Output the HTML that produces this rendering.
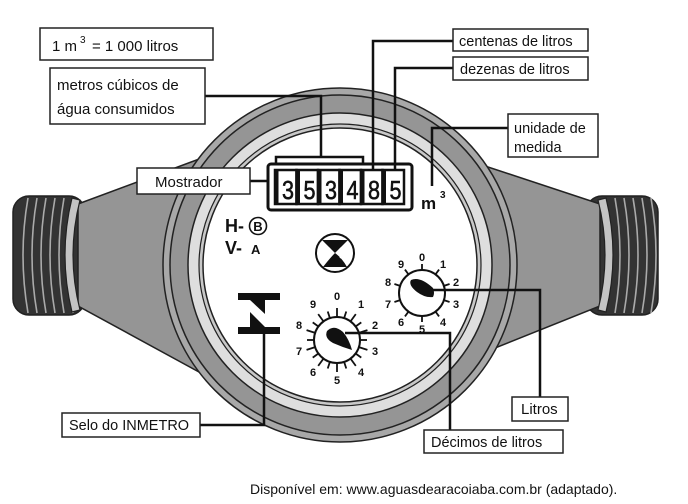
<!DOCTYPE html>
<html><head><meta charset="utf-8"><style>
html,body{margin:0;padding:0;background:#fff;}
svg{display:block;}
text{font-family:"Liberation Sans",Arial,sans-serif;}
</style></head><body>
<svg width="688" height="504" viewBox="0 0 688 504" xmlns="http://www.w3.org/2000/svg">
<!-- left pipe -->
<rect x="13" y="196" width="72" height="119" rx="16" fill="#333" stroke="#222" stroke-width="1.5"/>
<g fill="none" stroke="#aaa" stroke-width="1.6">
<path d="M28 198 Q18 255 28 313"/><path d="M37 198 Q27 255 37 313"/><path d="M46 198 Q36 255 46 313"/><path d="M55 198 Q45 255 55 313"/><path d="M64 198 Q54 255 64 313"/><path d="M73 198 Q63 255 73 313"/>
</g>
<path d="M78 204 L210 155 L210 378 L78 306 Z" fill="#959595" stroke="#222" stroke-width="1.5"/>
<path d="M80 200 Q66 255 80 310 L72 312 Q58 255 72 198 Z" fill="#c4c4c4" stroke="#222" stroke-width="1.2"/>
<!-- right pipe -->
<rect x="586" y="196" width="72" height="119" rx="16" fill="#333" stroke="#222" stroke-width="1.5"/>
<g fill="none" stroke="#aaa" stroke-width="1.6">
<path d="M615 198 Q625 255 615 313"/><path d="M624 198 Q634 255 624 313"/><path d="M633 198 Q643 255 633 313"/><path d="M642 198 Q652 255 642 313"/><path d="M651 198 Q661 255 651 313"/>
</g>
<path d="M600 204 L470 161 L470 358 L600 306 Z" fill="#959595" stroke="#222" stroke-width="1.5"/>
<path d="M598 200 Q612 255 598 310 L606 312 Q620 255 606 198 Z" fill="#c4c4c4" stroke="#222" stroke-width="1.2"/>
<!-- main body -->
<circle cx="340" cy="265" r="177" fill="#a8a8a8" stroke="#222" stroke-width="1.5"/>
<circle cx="340" cy="265" r="170" fill="#959595" stroke="#222" stroke-width="1.5"/>
<circle cx="340" cy="265" r="152" fill="#dedede" stroke="#222" stroke-width="1.5"/>
<circle cx="340" cy="265" r="141" fill="#c8c8c8" stroke="#222" stroke-width="1.2"/>
<circle cx="340" cy="265" r="137" fill="#fff" stroke="#222" stroke-width="1.5"/>
<!-- display -->
<path d="M276 164 V157 H363 V164" fill="none" stroke="#111" stroke-width="2.5"/>
<rect x="268" y="164" width="144" height="46" rx="3" fill="#fff" stroke="#111" stroke-width="3"/>
<g fill="#fff" stroke="#111" stroke-width="2.5">
<rect x="275" y="170" width="21.5" height="34"/><rect x="296.5" y="170" width="21.5" height="34"/><rect x="318" y="170" width="21.5" height="34"/><rect x="339.5" y="170" width="21.5" height="34"/><rect x="361" y="170" width="21.5" height="34"/><rect x="382.5" y="170" width="21.5" height="34"/>
</g>
<g fill="#111">
<rect x="275" y="170" width="3.5" height="34"/><rect x="296.5" y="170" width="3.5" height="34"/><rect x="318" y="170" width="3.5" height="34"/><rect x="339.5" y="170" width="3.5" height="34"/><rect x="361" y="170" width="3.5" height="34"/><rect x="382.5" y="170" width="3.5" height="34"/>
</g>
<g font-size="26" fill="#111" text-anchor="middle" stroke="#111" stroke-width="0.6">
<text x="288" y="199" textLength="12" lengthAdjust="spacingAndGlyphs">3</text><text x="309.5" y="199" textLength="12" lengthAdjust="spacingAndGlyphs">5</text><text x="331" y="199" textLength="12" lengthAdjust="spacingAndGlyphs">3</text><text x="352.5" y="199" textLength="12" lengthAdjust="spacingAndGlyphs">4</text><text x="374" y="199" textLength="12" lengthAdjust="spacingAndGlyphs">8</text><text x="395.5" y="199" textLength="12" lengthAdjust="spacingAndGlyphs">5</text>
</g>
<text x="421" y="209" font-size="17" font-weight="bold" fill="#111">m</text>
<text x="440" y="198" font-size="10" font-weight="bold" fill="#111">3</text>
<!-- H-B V-A -->
<text x="225" y="232" font-size="18" font-weight="bold" fill="#111">H-</text>
<circle cx="258" cy="226" r="8.5" fill="none" stroke="#111" stroke-width="1.6"/>
<text x="258" y="231" font-size="13" font-weight="bold" text-anchor="middle" fill="#111">B</text>
<text x="225" y="254" font-size="18" font-weight="bold" fill="#111">V-</text>
<text x="251" y="254" font-size="13" font-weight="bold" fill="#111">A</text>
<!-- center icon -->
<circle cx="335" cy="253" r="19" fill="#fff" stroke="#111" stroke-width="2"/>
<path d="M322 240 L348 240 Q342 246 335 253 Q342 258 347 267 L323 267 Q330 258 335 253 Q328 246 322 240 Z" fill="#111"/>
<path d="M330 248 Q325 253 330 258 M340 248 Q345 253 340 258" stroke="#fff" stroke-width="1.5" fill="none"/>
<!-- inmetro symbol -->
<rect x="238" y="293" width="42" height="7" fill="#111"/>
<rect x="238" y="327" width="42" height="7" fill="#111"/>
<path d="M250 300 L265 300 L265 314 Z" fill="#111"/>
<path d="M250 312 L265 327 L250 327 Z" fill="#111"/>
<!-- dial 1 -->
<circle cx="422" cy="293" r="23" fill="#fff" stroke="#111" stroke-width="2"/>
<g stroke="#111" stroke-width="1.8">
<line x1="422" y1="270" x2="422" y2="264" transform="rotate(0 422 293)"/><line x1="422" y1="270" x2="422" y2="264" transform="rotate(36 422 293)"/><line x1="422" y1="270" x2="422" y2="264" transform="rotate(72 422 293)"/><line x1="422" y1="270" x2="422" y2="264" transform="rotate(108 422 293)"/><line x1="422" y1="270" x2="422" y2="264" transform="rotate(144 422 293)"/><line x1="422" y1="270" x2="422" y2="264" transform="rotate(180 422 293)"/><line x1="422" y1="270" x2="422" y2="264" transform="rotate(216 422 293)"/><line x1="422" y1="270" x2="422" y2="264" transform="rotate(252 422 293)"/><line x1="422" y1="270" x2="422" y2="264" transform="rotate(288 422 293)"/><line x1="422" y1="270" x2="422" y2="264" transform="rotate(324 422 293)"/>
</g>
<path d="M411 280 Q420 276 433 288 Q435 293 433 297 Q425 298 417 292 Q408 285 411 280 Z" fill="#111"/>
<g font-size="11" font-weight="bold" fill="#111" text-anchor="middle">
<text x="422" y="261">0</text><text x="443" y="268">1</text><text x="456" y="286">2</text><text x="456" y="308">3</text><text x="443" y="326">4</text><text x="422" y="333">5</text><text x="401" y="326">6</text><text x="388" y="308">7</text><text x="388" y="286">8</text><text x="401" y="268">9</text>
</g>
<!-- dial 2 -->
<circle cx="337" cy="340" r="23" fill="#fff" stroke="#111" stroke-width="2"/>
<g stroke="#111" stroke-width="1.8">
<line x1="337" y1="317" x2="337" y2="308" transform="rotate(0 337 340)"/><line x1="337" y1="317" x2="337" y2="310" transform="rotate(18 337 340)"/><line x1="337" y1="317" x2="337" y2="308" transform="rotate(36 337 340)"/><line x1="337" y1="317" x2="337" y2="310" transform="rotate(54 337 340)"/><line x1="337" y1="317" x2="337" y2="308" transform="rotate(72 337 340)"/><line x1="337" y1="317" x2="337" y2="310" transform="rotate(90 337 340)"/><line x1="337" y1="317" x2="337" y2="308" transform="rotate(108 337 340)"/><line x1="337" y1="317" x2="337" y2="310" transform="rotate(126 337 340)"/><line x1="337" y1="317" x2="337" y2="308" transform="rotate(144 337 340)"/><line x1="337" y1="317" x2="337" y2="310" transform="rotate(162 337 340)"/><line x1="337" y1="317" x2="337" y2="308" transform="rotate(180 337 340)"/><line x1="337" y1="317" x2="337" y2="310" transform="rotate(198 337 340)"/><line x1="337" y1="317" x2="337" y2="308" transform="rotate(216 337 340)"/><line x1="337" y1="317" x2="337" y2="310" transform="rotate(234 337 340)"/><line x1="337" y1="317" x2="337" y2="308" transform="rotate(252 337 340)"/><line x1="337" y1="317" x2="337" y2="310" transform="rotate(270 337 340)"/><line x1="337" y1="317" x2="337" y2="308" transform="rotate(288 337 340)"/><line x1="337" y1="317" x2="337" y2="310" transform="rotate(306 337 340)"/><line x1="337" y1="317" x2="337" y2="308" transform="rotate(324 337 340)"/><line x1="337" y1="317" x2="337" y2="310" transform="rotate(342 337 340)"/>
</g>
<path d="M327 331 Q334 324 343 332 Q349 339 352 350 Q342 347 333 343 Q324 338 327 331 Z" fill="#111"/>
<g font-size="11" font-weight="bold" fill="#111" text-anchor="middle">
<text x="337" y="300">0</text><text x="361" y="308">1</text><text x="375" y="329">2</text><text x="375" y="355">3</text><text x="361" y="376">4</text><text x="337" y="384">5</text><text x="313" y="376">6</text><text x="299" y="355">7</text><text x="299" y="329">8</text><text x="313" y="308">9</text>
</g>
<!-- connectors -->
<g fill="none" stroke="#111" stroke-width="2.5">
<path d="M205 96 H321 V157"/>
<path d="M453 41 H373 V170"/>
<path d="M453 68 H395 V170"/>
<path d="M508 128 H432 V186"/>
<path d="M250 181 H268"/>
<path d="M433 290 H540 V398"/>
<path d="M345 333 H450 V430"/>
<path d="M264 334 V425 H200"/>
</g>
<!-- boxes -->
<g fill="#fff" stroke="#222" stroke-width="1.5">
<rect x="40" y="28" width="173" height="32"/>
<rect x="50" y="68" width="155" height="56"/>
<rect x="453" y="29" width="135" height="22"/>
<rect x="453" y="57" width="135" height="23"/>
<rect x="508" y="114" width="90" height="43"/>
<rect x="137" y="168" width="113" height="26"/>
<rect x="512" y="397" width="56" height="24"/>
<rect x="424" y="430" width="139" height="23"/>
<rect x="62" y="413" width="138" height="24"/>
</g>
<g font-size="15" fill="#111">
<text x="52" y="51">1 m</text><text x="80" y="43" font-size="10">3</text><text x="92" y="51">= 1 000 litros</text>
<text x="57" y="90">metros cúbicos de</text>
<text x="57" y="114">água consumidos</text>
<text x="459" y="46" font-size="14.5">centenas de litros</text>
<text x="460" y="74" font-size="14.5">dezenas de litros</text>
<text x="514" y="133" font-size="14.5">unidade de</text>
<text x="514" y="152" font-size="14.5">medida</text>
<text x="155" y="187" font-size="15">Mostrador</text>
<text x="521" y="414" font-size="15">Litros</text>
<text x="431" y="447" font-size="14.5">Décimos de litros</text>
<text x="69" y="430" font-size="14.5">Selo do INMETRO</text>
<text x="250" y="494" font-size="14">Disponível em: www.aguasdearacoiaba.com.br (adaptado).</text>
</g>
</svg>
</body></html>
